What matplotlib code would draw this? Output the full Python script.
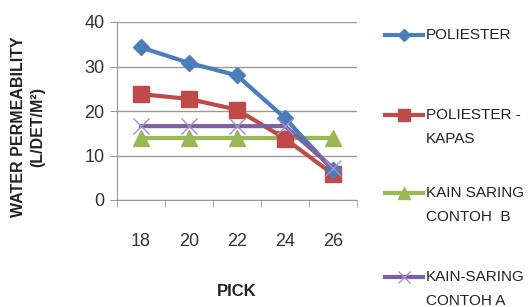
import matplotlib
matplotlib.use("Agg")
import matplotlib.pyplot as plt
from matplotlib.lines import Line2D

plt.rcParams['font.family'] = ['Liberation Sans', 'DejaVu Sans']

picks = ["18", "20", "22", "24", "26"]
poliester = [34.3, 30.8, 28.0, 18.4, 6.7]
poliester_kapas = [23.8, 22.7, 20.3, 13.8, 5.8]
kain_b = [13.9, 13.9, 13.9, 13.9, 13.9]
kain_a = [16.6, 16.6, 16.6, 16.6, 7.2]
labels = ["POLIESTER", "POLIESTER -\nKAPAS", "KAIN SARING\nCONTOH  B", "KAIN-SARING\nCONTOH A"]
yticks = [0, 10, 20, 30, 40]

W, H = 530, 307
fig = plt.figure(figsize=(5.3, 3.07), dpi=100)
ax = fig.add_axes([117/W, 1-200/H, 240/W, 178/H])
x = range(len(picks))
styles = [
    dict(color="#4A7EBB", marker="D", markersize=8, lw=3, zorder=4),
    dict(color="#BE4B48", marker="s", markersize=11, lw=3, zorder=3),
    dict(color="#98B954", marker="^", markersize=11, lw=3, zorder=2),
    dict(color="#7D60A0", marker="x", markersize=12, mew=1, mec="#A58FD0", lw=3, zorder=5),
]
series = [poliester, poliester_kapas, kain_b, kain_a]
for vals, st, lab in zip(series, styles, labels):
    ax.plot(x, vals, label=lab, **st)

ax.set_xlim(-0.5, 4.5)
ax.set_ylim(0, 40)
ax.set_yticks(yticks)
ax.set_xticks(list(x))
ax.set_xticklabels(picks)
ax.set_xticks([i - 0.5 for i in range(6)], minor=True)
ax.tick_params(axis='x', which='major', length=0, pad=24, labelsize=13, colors="#333333")
ax.tick_params(axis='x', which='minor', length=5, color="#999999", direction='out')
ax.tick_params(axis='y', length=5, color="#999999", labelsize=13, colors="#333333", pad=4)
ax.grid(axis='y', color="#999999", lw=1)
ax.set_axisbelow(True)
for s in ["top", "right"]:
    ax.spines[s].set_visible(False)
for s in ["left", "bottom"]:
    ax.spines[s].set_color("#999999")

fig.text(28/W, 1-127/H, "WATER PERMEABILITY\n(L/DET/M²)", rotation=90, ha="center", va="center",
         fontsize=11.5, fontweight="bold", linespacing=1.4, color="#222222")
fig.text(237/W, 1-292/H, "PICK", ha="center", va="center", fontsize=12, fontweight="bold", color="#222222")

# manual legend
leg_y = [35, 115, 193, 277]
for yy, st, lab in zip(leg_y, styles, labels):
    st2 = dict(st)
    st2.pop("zorder")
    st2["markersize"] = st2["markersize"] * 0.75
    fig.add_artist(Line2D([385/W, 404/W, 423/W], [1-yy/H]*3, transform=fig.transFigure,
                          markevery=[1], **st2))
    fig.text(426/W, 1-(yy-7)/H, lab, ha="left", va="top", fontsize=11, linespacing=1.95, color="#222222")

plt.savefig("out.png", dpi=100)
